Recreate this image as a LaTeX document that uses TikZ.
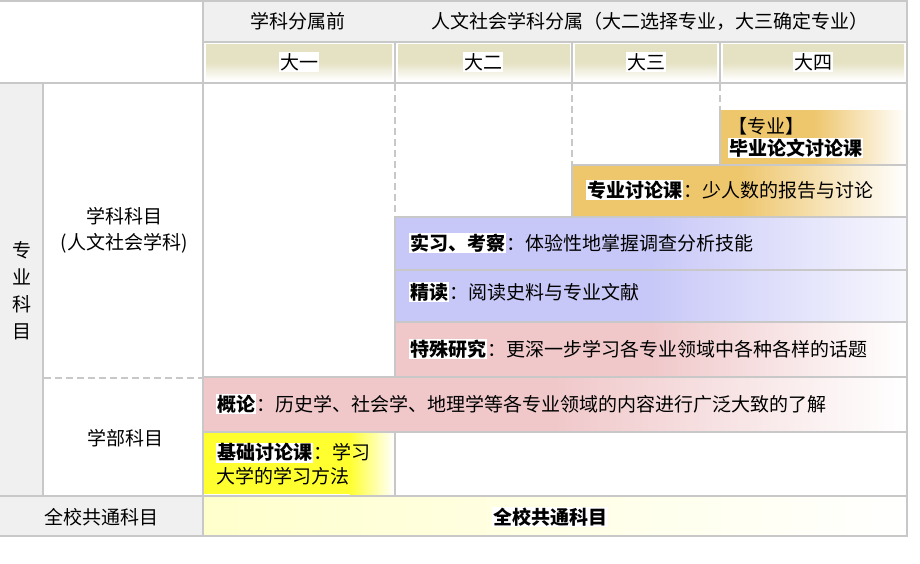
\documentclass[tikz,border=0pt]{standalone}
\usepackage{fontspec}
\setmainfont{Noto Sans CJK SC}
\usetikzlibrary{positioning}
\definecolor{gridgray}{RGB}{200,200,200}
\definecolor{headgray}{RGB}{240,240,240}
\definecolor{yearbeige}{RGB}{229,225,195}
\definecolor{semorange}{RGB}{238,198,108}
\definecolor{fieldblue}{RGB}{200,200,248}
\definecolor{lecpink}{RGB}{240,200,202}
\definecolor{baseyellow}{RGB}{255,255,48}
\definecolor{commonyellow}{RGB}{255,255,204}
\newcommand{\halo}[1]{{\setlength{\fboxsep}{1pt}\colorbox{white}{#1}}}
\newcommand{\kw}[1]{\halo{\bfseries #1}}

\begin{document}
\begin{tikzpicture}[x=1pt, y=-1pt,
  font=\fontsize{19}{24}\selectfont,
  ln/.style={draw=gridgray, line width=2pt},
  dl/.style={ln, dash pattern=on 7pt off 4pt},
  yr/.style={top color=yearbeige, bottom color=white, middle color=yearbeige},
  orng/.style={left color=semorange, right color=white, middle color=semorange},
  blu/.style={left color=fieldblue, right color=white!85!fieldblue, middle color=fieldblue},
  pnk/.style={left color=lecpink, right color=white, middle color=lecpink},
  lbl/.style={inner sep=0},
  txt/.style={inner sep=0, anchor=west, align=left}]
\useasboundingbox[fill=white] (0,0) rectangle (920,564);
% fills
\fill[headgray] (203,0) rectangle (907,42);
\fill[headgray] (0,83) rectangle (43,495);
\fill[headgray] (0,495) rectangle (203,536);
\shade[yr] (206,45) rectangle (392,80);
\shade[yr] (398,45) rectangle (570,80);
\shade[yr] (575,45) rectangle (717,80);
\shade[yr] (723,45) rectangle (904,80);
\shade[orng] (721,111) rectangle (906,164);
\shade[orng] (573,166) rectangle (906,216);
\shade[blu] (396,218) rectangle (906,269);
\shade[blu] (396,271) rectangle (906,321);
\shade[pnk] (396,323) rectangle (906,375);
\shade[pnk] (204,377) rectangle (906,431);
\fill[baseyellow] (204,433) rectangle (350,494);
\shade[left color=baseyellow, right color=white] (349.5,433) rectangle (394,494);
\shade[left color=commonyellow, right color=white] (204,496) rectangle (906,535);
% grid
\draw[ln] (0,1) -- (907,1);
\draw[ln] (203,42) -- (907,42);
\draw[ln] (0,83) -- (907,83);
\draw[ln] (0,495.5) -- (907,495.5);
\draw[ln] (0,535.5) -- (907,535.5);
\draw[ln] (907,0) -- (907,536.5);
\draw[ln] (203,0) -- (203,536);
\draw[ln] (43,83) -- (43,495);
\foreach \cx in {395,572,720}
  \draw[ln] (\cx,42) -- (\cx,83);
\draw[dl] (395,84) -- (395,217);
\draw[dl] (572,84) -- (572,165);
\draw[dl] (720,84) -- (720,111);
\draw[ln] (720,111) -- (720,165);
\draw[ln] (572,165) -- (572,217);
\draw[ln] (395,217) -- (395,377);
\draw[ln] (395,432) -- (395,495);
\draw[ln] (572,165) -- (907,165);
\draw[ln] (395,217) -- (907,217);
\draw[ln] (395,270) -- (907,270);
\draw[ln] (395,322) -- (907,322);
\draw[ln] (203,376.5) -- (907,376.5);
\draw[ln] (203,432) -- (907,432);
\draw[dl] (44,378) -- (203,378);
% headers
\node[lbl] (pre) at (298,21) {学科分属前};
\node[lbl] (post) at (650,21) {人文社会学科分属（大二选择专业，大三确定专业）};
\node[lbl] (yr1) at (299,62) {\halo{大一}};
\node[lbl] (yr2) at (483,62) {\halo{大二}};
\node[lbl] (yr3) at (646,62) {\halo{大三}};
\node[lbl] (yr4) at (813,62) {\halo{大四}};
% row labels
\node[lbl, align=center, font=\fontsize{19}{27}\selectfont] (major) at (22,291) {专\\业\\科\\目};
\node[lbl, align=center, font=\fontsize{19}{26}\selectfont] (dept) at (124,230) {学科科目\\(人文社会学科)};
\node[lbl] (fac) at (125,438) {学部科目};
\node[lbl] (allL) at (101,517) {全校共通科目};
\node[lbl] (allR) at (550,517) {\kw{全校共通科目}};
% courses
\node[txt, font=\fontsize{19}{22}\selectfont] (thesis) at (728,138) {【专业】\\\kw{毕业论文讨论课}};
\node[txt] (seminar) at (586,190) {\kw{专业讨论课}：少人数的报告与讨论};
\node[txt] (field) at (409,243) {\kw{实习、考察}：体验性地掌握调查分析技能};
\node[txt] (reading) at (409,292) {\kw{精读}：阅读史料与专业文献};
\node[txt] (special) at (409,349) {\kw{特殊研究}：更深一步学习各专业领域中各种各样的话题};
\node[txt] (intro) at (216,404) {\kw{概论}：历史学、社会学、地理学等各专业领域的内容进行广泛大致的了解};
\node[txt] (basic) at (216,464) {\kw{基础讨论课}：学习\\大学的学习方法};
\end{tikzpicture}
\end{document}
